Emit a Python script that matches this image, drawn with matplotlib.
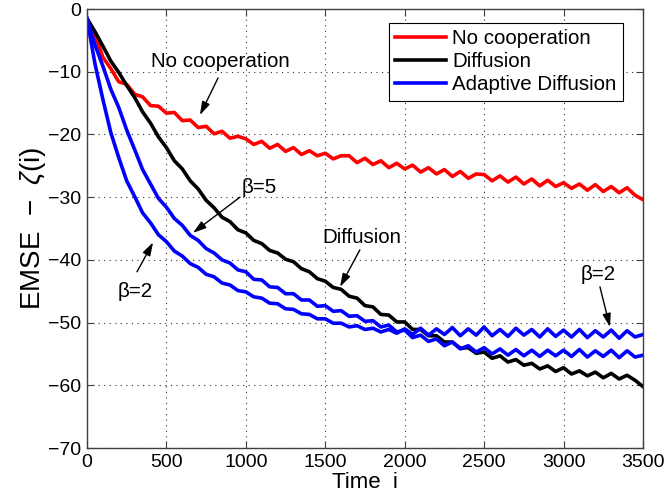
import numpy as np
import matplotlib
matplotlib.use("Agg")
import matplotlib.pyplot as plt

plt.rcParams['font.family'] = ['Liberation Sans', 'DejaVu Sans']
plt.rcParams['mathtext.fontset'] = 'custom'
plt.rcParams['mathtext.rm'] = 'Liberation Sans'
plt.rcParams['mathtext.it'] = 'Liberation Sans:italic'

# sample index (every 50 iterations)
time = np.arange(0, 3501, 50)

# EMSE curves (dB)
no_coop = [
    -1.5, -4.0, -7.7, -9.5, -11.6, -12.0, -13.6, -14.0, -15.4, -15.5,
    -16.6, -16.5, -17.8, -17.7, -18.9, -18.7, -19.9, -19.5, -20.6, -20.3,
    -20.7, -21.6, -21.1, -22.2, -21.6, -22.7, -22.1, -23.2, -22.6, -23.4,
    -23.0, -23.9, -23.4, -23.4, -24.5, -23.8, -24.8, -24.2, -25.3, -24.6,
    -25.5, -24.9, -26.0, -25.3, -26.3, -25.6, -26.7, -25.9, -27.0, -26.3,
    -26.4, -27.4, -26.6, -27.6, -26.8, -27.9, -27.1, -28.2, -27.3, -28.3,
    -27.7, -28.6, -27.9, -28.9, -28.0, -29.1, -28.3, -29.3, -28.5, -29.7,
    -30.4,
]
diffusion = [
    -1.5, -3.6, -5.9, -8.3, -10.1, -12.2, -14.1, -16.4, -18.2, -20.4,
    -22.1, -24.2, -25.5, -27.4, -28.7, -30.5, -31.7, -33.2, -33.9, -35.2,
    -35.7, -36.9, -37.4, -38.5, -38.9, -39.9, -40.3, -41.4, -41.9, -43.0,
    -43.4, -44.4, -44.7, -45.8, -46.1, -47.3, -47.5, -48.7, -48.8, -49.9,
    -49.9, -51.1, -51.1, -52.1, -52.1, -53.1, -53.1, -54.1, -54.0, -54.9,
    -54.7, -55.7, -55.3, -56.3, -55.9, -56.8, -56.5, -57.4, -56.9, -57.8,
    -57.2, -58.2, -57.7, -58.5, -57.9, -58.8, -58.1, -59.0, -58.4, -59.2,
    -60.2,
]
adapt_b5 = [
    -1.5, -5.7, -9.1, -12.8, -15.7, -19.3, -22.4, -25.6, -27.9, -30.2,
    -31.6, -33.4, -34.5, -36.1, -36.9, -38.2, -38.9, -40.0, -40.5, -41.6,
    -41.9, -43.1, -43.2, -44.3, -44.4, -45.4, -45.4, -46.4, -46.4, -47.4,
    -47.3, -48.2, -48.1, -49.0, -48.9, -49.8, -49.7, -50.7, -50.4, -51.5,
    -51.2, -52.4, -52.0, -53.0, -52.6, -53.7, -53.1, -54.2, -53.7, -54.7,
    -54.0, -55.0, -54.2, -55.2, -54.3, -55.3, -54.4, -55.4, -54.4, -55.3,
    -54.4, -55.4, -54.3, -55.5, -54.5, -55.4, -54.4, -55.6, -54.5, -55.5,
    -55.2,
]
adapt_b2 = [
    -1.5, -8.7, -14.4, -19.7, -23.7, -27.4, -29.9, -32.5, -34.1, -36.0,
    -37.1, -38.6, -39.4, -40.6, -41.2, -42.3, -42.7, -43.7, -44.0, -44.9,
    -45.1, -45.9, -46.1, -46.9, -47.0, -47.8, -47.9, -48.6, -48.7, -49.4,
    -49.4, -50.1, -50.1, -50.7, -50.5, -51.1, -50.9, -51.5, -51.1, -51.7,
    -51.0, -51.9, -50.9, -52.0, -51.0, -51.9, -50.8, -52.1, -51.0, -52.0,
    -50.7, -52.1, -51.1, -52.2, -50.9, -52.0, -51.1, -52.3, -51.0, -52.2,
    -51.2, -52.3, -51.1, -52.4, -51.3, -52.3, -51.2, -52.5, -51.3, -52.3,
    -51.9,
]

fig = plt.figure(figsize=(6.65, 4.98), dpi=100)
ax = fig.add_axes([0.1308, 0.1004, 0.8361, 0.8815])

lw = 2.6
ax.plot(time, no_coop, color='#ff0000', lw=lw, label='No cooperation')
ax.plot(time, diffusion, color='k', lw=lw, label='Diffusion')
ax.plot(time, adapt_b5, color='#0000ff', lw=lw, label='Adaptive Diffusion')
ax.plot(time, adapt_b2, color='#0000ff', lw=lw)

ax.set_xlim(0, 3500)
ax.set_ylim(-70, 0)
ax.set_xticks(range(0, 3501, 500))
ax.set_yticks(range(-70, 1, 10))
ax.tick_params(direction='in', top=True, right=True, labelsize=14, length=5,
               width=0.8, color='#404040', pad=4)
for s in ax.spines.values():
    s.set_color('#404040')
    s.set_linewidth(1.0)
ax.grid(True, linestyle=(0, (1, 4)), color='#333333', lw=0.8)

ax.set_xlabel('Time  i', fontsize=16, labelpad=1)
ax.set_ylabel('EMSE  \u2212  $\\zeta$(i)', fontsize=20, labelpad=0)

leg = ax.legend(loc='upper right', bbox_to_anchor=(0.964, 0.968), fontsize=14.8,
                handlelength=2.5, handletextpad=0.3, labelspacing=0.2,
                borderpad=0.3, borderaxespad=0, fancybox=False, framealpha=1,
                edgecolor='k')
leg.get_frame().set_linewidth(0.8)

arrow = dict(arrowstyle='-|>,head_length=0.8,head_width=0.25', color='k',
             lw=1.0, shrinkA=0, shrinkB=0)
fs = 14.8
ax.text(837, -8.4, 'No cooperation', fontsize=fs, ha='center', va='center')
ax.annotate('', xy=(711, -16.9), xytext=(825, -11.0), arrowprops=arrow)
ax.text(1083, -28.4, '\u03b2=5', fontsize=fs, ha='center', va='center')
ax.annotate('', xy=(667, -35.7), xytext=(963, -30.0), arrowprops=arrow)
ax.text(302, -45.1, '\u03b2=2', fontsize=fs, ha='center', va='center')
ax.annotate('', xy=(416, -37.2), xytext=(315, -41.9), arrowprops=arrow)
ax.text(1731, -36.4, 'Diffusion', fontsize=fs, ha='center', va='center')
ax.annotate('', xy=(1593, -44.3), xytext=(1718, -38.4), arrowprops=arrow)
ax.text(3217, -42.3, '\u03b2=2', fontsize=fs, ha='center', va='center')
ax.annotate('', xy=(3292, -50.7), xytext=(3229, -44.3), arrowprops=arrow)

fig.savefig('out.png', dpi=100)
